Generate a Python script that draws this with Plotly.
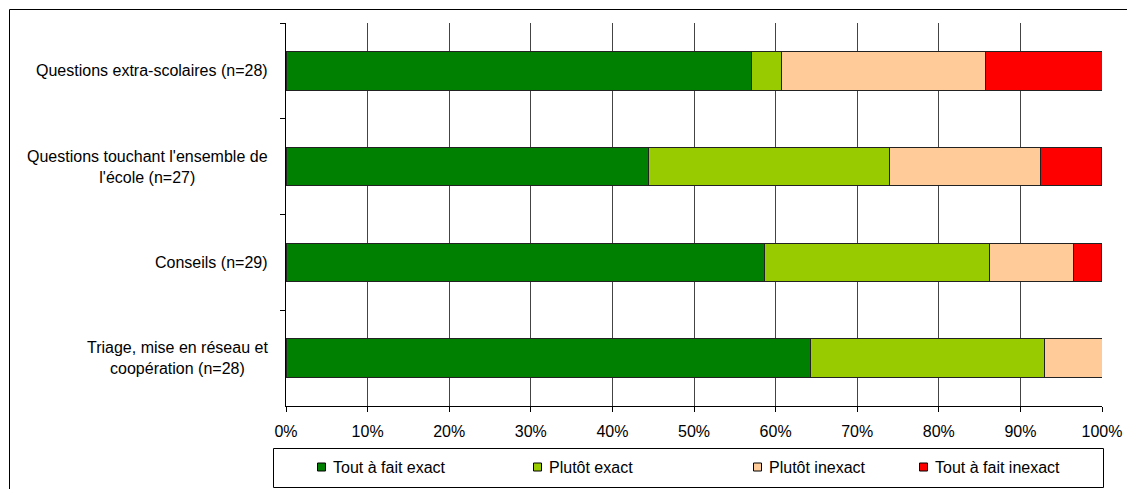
import plotly.graph_objects as go

categories = [
    "Questions extra-scolaires (n=28)",
    "Questions touchant l'ensemble de<br>l'école (n=27)",
    "Conseils (n=29)",
    "Triage, mise en réseau et<br>coopération (n=28)",
]
series_names = ["Tout à fait exact", "Plutôt exact", "Plutôt inexact", "Tout à fait inexact"]
tout_fait_exact = [57.1, 44.4, 58.6, 64.3]
plutot_exact = [3.6, 29.6, 27.6, 28.6]
plutot_inexact = [25.0, 18.5, 10.3, 7.1]
tout_fait_inexact = [14.3, 7.4, 3.4, 0.0]
x_ticks = [0, 10, 20, 30, 40, 50, 60, 70, 80, 90, 100]
x_tick_labels = [f"{v}%" for v in x_ticks]

colors = ["#008000", "#99CC00", "#FFCC99", "#FF0000"]
values = [tout_fait_exact, plutot_exact, plutot_inexact, tout_fait_inexact]

# page is rendered with an 8px body margin
OFF = 8
PAGE_W, PAGE_H = 1135, 489
W, H = PAGE_W - OFF, PAGE_H - OFF
PLOT_L, PLOT_R, PLOT_T, PLOT_B = 286, 1102, 23, 406  # page pixels
L, T = PLOT_L - OFF, PLOT_T - OFF
R = W - (PLOT_R - OFF)
B = H - (PLOT_B - OFF)
pw, ph = PLOT_R - PLOT_L, PLOT_B - PLOT_T


def px_x(px):
    return (px - PLOT_L) / pw


def px_y(py):
    return (PLOT_B - py) / ph


font = dict(family="Liberation Sans, Arial, sans-serif", size=16, color="#000000")

fig = go.Figure()
for name, vals, col in zip(series_names, values, colors):
    fig.add_trace(go.Bar(
        y=categories, x=vals, name=name, orientation="h",
        marker=dict(color=col, line=dict(color="#222222", width=1)),
        hoverinfo="x+name", showlegend=False,
    ))

annotations = []
for c in categories:
    annotations.append(dict(
        x=px_x(PLOT_L - 16), xref="paper", y=c, yref="y", text=c, showarrow=False,
        xanchor="right", yanchor="middle", align="center", font=font,
    ))

shapes = [
    # outer frame (top and left edges visible)
    dict(type="line", xref="paper", yref="paper", x0=px_x(9.5), x1=px_x(1145), y0=px_y(9.5), y1=px_y(9.5),
         line=dict(color="#000000", width=1)),
    dict(type="line", xref="paper", yref="paper", x0=px_x(9.5), x1=px_x(9.5), y0=px_y(9.5), y1=px_y(500),
         line=dict(color="#000000", width=1)),
    # legend box
    dict(type="rect", xref="paper", yref="paper", x0=px_x(273.5), x1=px_x(1103.5), y0=px_y(448.5), y1=px_y(487.5),
         line=dict(color="#000000", width=1), fillcolor="rgba(0,0,0,0)"),
]

legend_marker_x = [317.5, 533.5, 753.5, 919.5]
legend_cy = 467
for name, col, mx in zip(series_names, colors, legend_marker_x):
    shapes.append(dict(type="rect", xref="paper", yref="paper",
                       x0=px_x(mx), x1=px_x(mx + 8), y0=px_y(legend_cy - 4), y1=px_y(legend_cy + 4),
                       line=dict(color="#000000", width=1), fillcolor=col))
    annotations.append(dict(x=px_x(mx + 13), xref="paper", y=px_y(legend_cy), yref="paper",
                            text=name, showarrow=False, xanchor="left", yanchor="middle", font=font))

fig.update_layout(
    width=W, height=H,
    margin=dict(l=L, r=R, t=T, b=B, autoexpand=False),
    barmode="stack", bargap=0.6,
    plot_bgcolor="#FFFFFF", paper_bgcolor="#FFFFFF",
    font=font, showlegend=False,
    annotations=annotations, shapes=shapes,
    xaxis=dict(
        range=[0, 100], tickvals=x_ticks, ticktext=x_tick_labels,
        showgrid=True, gridcolor="#444444", gridwidth=1,
        showline=True, linecolor="#000000", linewidth=1,
        ticks="outside", ticklen=5, tickcolor="#000000",
        zeroline=False, fixedrange=True, ticklabelstandoff=6,
    ),
    yaxis=dict(
        categoryorder="array", categoryarray=categories, autorange="reversed",
        showticklabels=False, showgrid=False,
        showline=True, linecolor="#000000", linewidth=1,
        ticks="outside", ticklen=5, tickcolor="#000000", tickson="boundaries",
        zeroline=False, fixedrange=True,
    ),
)

fig.write_html("out.html")
